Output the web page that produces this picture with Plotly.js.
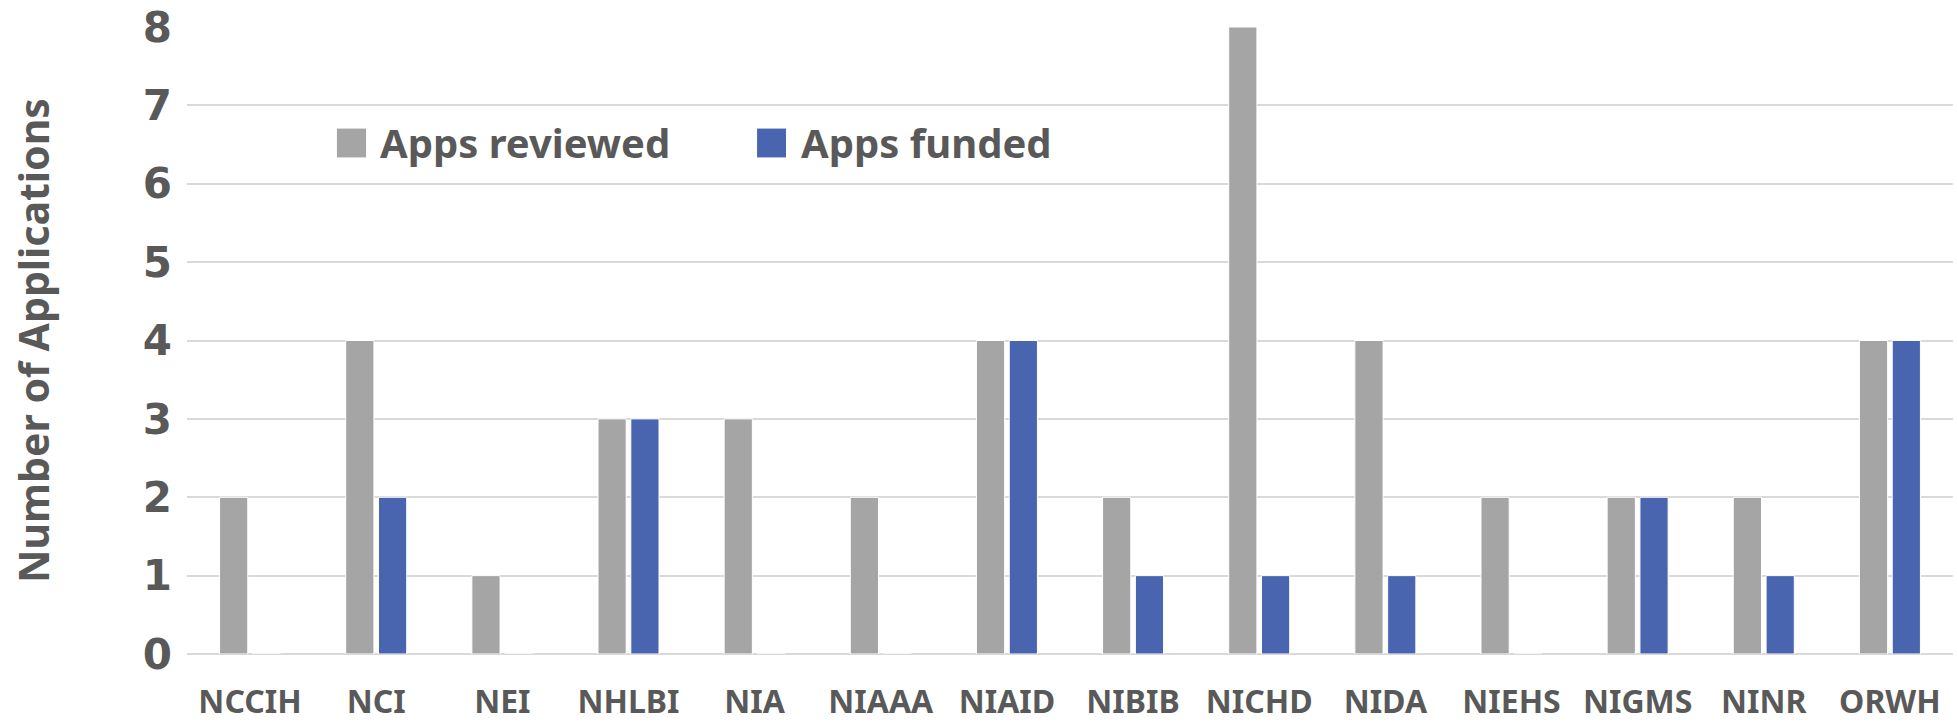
<!DOCTYPE html>
<html><head><meta charset="utf-8">
<script src="https://cdn.plot.ly/plotly-3.0.1.min.js"></script>
<style>html,body{margin:0;padding:0;background:#fff}#chart{width:1957px;height:727px}</style>
</head><body><div id="chart"></div>
<script>
const categories = ["NCCIH","NCI","NEI","NHLBI","NIA","NIAAA","NIAID","NIBIB","NICHD","NIDA","NIEHS","NIGMS","NINR","ORWH"];
const appsReviewed = [2,4,1,3,3,2,4,2,8,4,2,2,2,4];
const appsFunded   = [0,2,0,3,0,0,4,1,1,1,0,2,1,4];
const yTicks = [0,1,2,3,4,5,6,7,8];
const seriesNames = ["Apps reviewed","Apps funded"];
const seriesColors = ["#A5A5A5","#4A65AF"];

const textColor = "#595959";
const labelFont = "Noto Sans, Open Sans, sans-serif";
const data = [
  {type:"bar", name:seriesNames[0], x:categories, y:appsReviewed,
   marker:{color:seriesColors[0], line:{color:"#ffffff", width:1}}},
  {type:"bar", name:seriesNames[1], x:categories, y:appsFunded,
   marker:{color:seriesColors[1], line:{color:"#ffffff", width:1}}}
];

// manual legend (large square swatches like the original)
const legendPos = [{sq:[0.0849,0.1014], tx:0.1082}, {sq:[0.3228,0.3392], tx:0.3466}];
const legY = 0.815, legH = 0.023;
const shapes = [], annotations = [];
seriesNames.forEach((n,i)=>{
  shapes.push({type:"rect", xref:"paper", yref:"paper",
    x0:legendPos[i].sq[0], x1:legendPos[i].sq[1], y0:legY-legH, y1:legY+legH,
    fillcolor:seriesColors[i], line:{width:0}});
  annotations.push({xref:"paper", yref:"paper", x:legendPos[i].tx, y:legY,
    xanchor:"left", yanchor:"middle", showarrow:false, text:n,
    font:{family:labelFont, size:40, color:textColor, weight:"bold"}});
});

const layout = {
  width:1957, height:727,
  margin:{l:187, r:4, t:27, b:73},
  paper_bgcolor:"#fff", plot_bgcolor:"#fff",
  barmode:"group", bargap:0.48, bargroupgap:0.14,
  showlegend:false,
  shapes:shapes, annotations:annotations,
  xaxis:{type:"category", tickvals:categories, showgrid:false, showline:false, zeroline:false,
    ticks:"", ticklabelstandoff:26,
    tickfont:{family:labelFont, size:32, color:textColor, weight:"bold"}},
  yaxis:{range:[0,8], tickvals:yTicks, ticktext:yTicks.map(String),
    showgrid:true, gridcolor:"#D9D9D9", gridwidth:2, zeroline:true, zerolinecolor:"#D9D9D9", zerolinewidth:2,
    showline:false, ticks:"", ticklabelstandoff:14,
    tickfont:{family:"DejaVu Sans, Verdana, sans-serif", size:42, color:textColor, weight:"bold"},
    title:{text:"Number of Applications", standoff:80,
      font:{family:labelFont, size:41, color:textColor, weight:"bold"}}}
};
Plotly.newPlot("chart", data, layout, {displayModeBar:false, staticPlot:true});
</script></body></html>
